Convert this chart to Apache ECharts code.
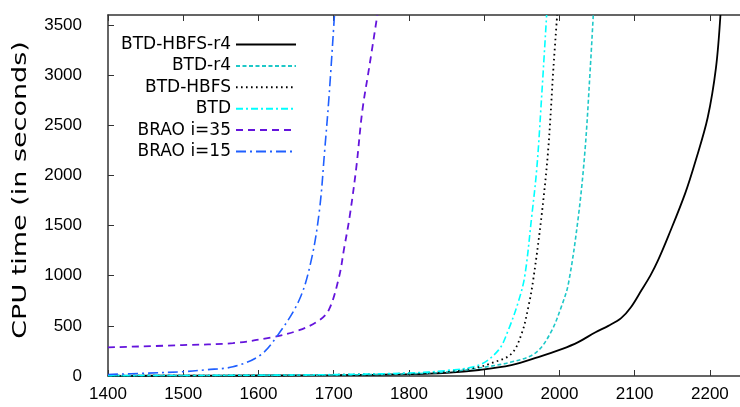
<!DOCTYPE html>
<html>
<head>
<meta charset="utf-8">
<script src="https://cdn.jsdelivr.net/npm/echarts@6/dist/echarts.min.js"></script>
<style>html,body{margin:0;padding:0;background:#fff}#c{width:740px;height:407px}</style>
</head>
<body>
<div id="c"></div>
<script>
// ---- data ----
const xTicks = [1400, 1500, 1600, 1700, 1800, 1900, 2000, 2100, 2200];
const yTicks = [0, 500, 1000, 1500, 2000, 2500, 3000, 3500];

const names = ["BTD-HBFS-r4", "BTD-r4", "BTD-HBFS", "BTD", "BRAO i=35", "BRAO i=15"];

const hbfsR4X = [1400, 1500, 1600, 1700, 1800, 1850, 1893, 1936, 1972, 2003, 2025, 2048, 2065, 2082, 2095, 2109, 2121, 2131, 2145, 2167, 2181, 2197, 2208, 2214];
const hbfsR4Y = [2, 3, 5, 8, 18, 32, 60, 109, 189, 268, 338, 437, 500, 577, 686, 855, 1004, 1153, 1400, 1819, 2147, 2575, 3070, 3600];

const btdR4X = [1400, 1500, 1600, 1700, 1800, 1850, 1893, 1936, 1968, 1988, 2003, 2012, 2025, 2034, 2041, 2045];
const btdR4Y = [3, 4, 6, 10, 22, 40, 80, 139, 229, 427, 700, 924, 1580, 2250, 3070, 3600];

const hbfsX = [1400, 1500, 1600, 1700, 1800, 1850, 1893, 1910, 1936, 1950, 1959, 1965, 1976, 1985, 1992, 1997];
const hbfsY = [3, 4, 6, 12, 25, 45, 90, 129, 220, 427, 700, 950, 1580, 2250, 3070, 3600];

const btdX = [1400, 1500, 1600, 1700, 1800, 1850, 1893, 1919, 1932, 1946, 1954, 1963, 1970, 1976, 1983];
const btdY = [4, 5, 8, 14, 30, 55, 109, 258, 457, 755, 1000, 1580, 2078, 2744, 3600];

const brao35X = [1400, 1499, 1566, 1619, 1654, 1681, 1694, 1707, 1714, 1721, 1730, 1738, 1747, 1758];
const brao35Y = [285, 308, 328, 388, 457, 556, 666, 984, 1280, 1580, 2078, 2644, 3070, 3600];

const brao15X = [1400, 1450, 1499, 1530, 1566, 1601, 1624, 1654, 1670, 1681, 1688, 1694, 1701];
const brao15Y = [15, 28, 43, 62, 92, 200, 390, 755, 1150, 1650, 2250, 2810, 3600];

// ---- build ----
function pairs(xs, ys) { return xs.map((x, i) => [x, ys[i]]); }

const styles = [
  { color: '#000000', type: 'solid', width: 1.8 },
  { color: '#1ec8c8', type: [4, 2.5], width: 1.6 },
  { color: '#000000', type: [1.6, 3.4], width: 1.8 },
  { color: '#00ffff', type: [7, 3, 2, 3], width: 1.6 },
  { color: '#6414dc', type: [7, 5], width: 1.8 },
  { color: '#1f5fff', type: [10, 4, 2, 4], width: 1.6 }
];
const datas = [
  pairs(hbfsR4X, hbfsR4Y), pairs(btdR4X, btdR4Y), pairs(hbfsX, hbfsY),
  pairs(btdX, btdY), pairs(brao35X, brao35Y), pairs(brao15X, brao15Y)
];

const series = names.map((n, i) => ({
  name: n,
  type: 'line',
  data: datas[i],
  symbol: 'none',
  smooth: 0.35,
  clip: true,
  color: styles[i].color,
  lineStyle: { color: styles[i].color, type: styles[i].type, width: styles[i].width },
  animation: false
}));

const axisCol = '#333';
const chart = echarts.init(document.getElementById('c'), null, { renderer: 'canvas' });
chart.setOption({
  animation: false,
  backgroundColor: '#fff',
  grid: { left: 108, top: 15, width: 634, height: 361 },
  legend: {
    data: names,
    orient: 'vertical',
    align: 'right',
    right: 443,
    top: 36,
    padding: 0,
    itemWidth: 60,
    itemHeight: 14,
    itemGap: 4.4,
    itemStyle: { opacity: 0 },
    textStyle: { fontFamily: 'DejaVu Sans', fontSize: 17, color: '#000', lineHeight: 14 }
  },
  xAxis: [{
    type: 'value', min: xTicks[0], max: 2240, interval: 100,
    axisLine: { show: true, lineStyle: { color: axisCol, width: 1.5 } },
    axisTick: { show: true, inside: true, length: 6, lineStyle: { color: axisCol } },
    axisLabel: { margin: 10, fontFamily: 'Liberation Sans', fontSize: 17, color: '#000', showMaxLabel: false,
      formatter: v => xTicks.includes(v) ? String(v) : '' },
    splitLine: { show: false }
  }, {
    type: 'value', position: 'top', min: xTicks[0], max: 2240, interval: 100,
    axisLine: { show: true, lineStyle: { color: axisCol, width: 1.5 } },
    axisTick: { show: true, inside: true, length: 6, lineStyle: { color: axisCol } },
    axisLabel: { show: false },
    splitLine: { show: false }
  }],
  yAxis: {
    type: 'value', min: yTicks[0], max: 3600, interval: 500,
    axisLine: { show: true, lineStyle: { color: axisCol, width: 1.5 } },
    axisTick: { show: true, inside: true, length: 6, lineStyle: { color: axisCol } },
    axisLabel: { margin: 26, fontFamily: 'Liberation Sans', fontSize: 17, color: '#000', showMaxLabel: false,
      formatter: v => yTicks.includes(v) ? String(v) : '' },
    splitLine: { show: false }
  },
  graphic: [{
    type: 'text',
    x: 21, y: 190,
    rotation: Math.PI / 2,
    scaleX: 1.42,
    style: {
      text: 'CPU time (in seconds)',
      font: '19px "DejaVu Sans"',
      fill: '#000',
      textAlign: 'center',
      textVerticalAlign: 'middle'
    }
  }],
  series: series
});
</script>
</body>
</html>
